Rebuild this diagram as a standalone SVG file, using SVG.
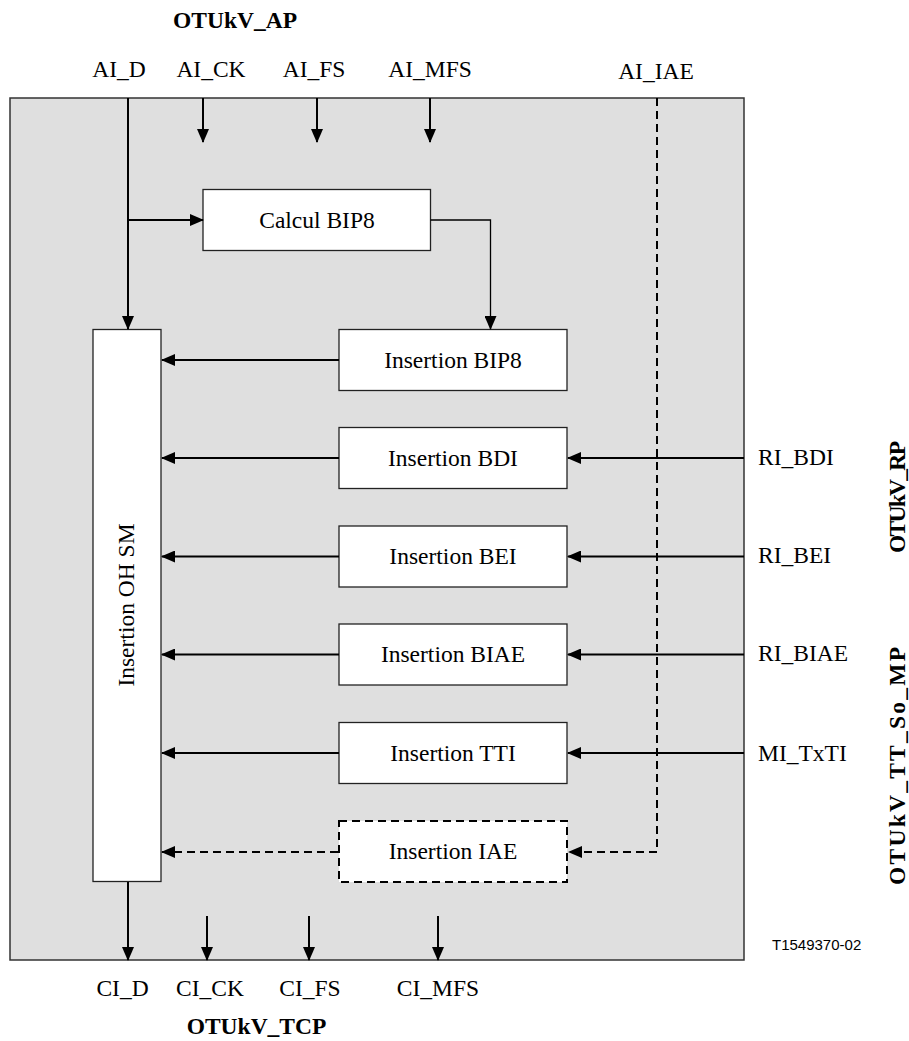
<svg xmlns="http://www.w3.org/2000/svg" width="909" height="1041" viewBox="0 0 909 1041">
<style>
.t{font-family:"Liberation Serif","Times New Roman",serif;font-size:23.5px;fill:#000}
.b{font-weight:bold}
.m{text-anchor:middle}
.box{fill:#fff;stroke:#222;stroke-width:1.3}
.dbox{fill:#fff;stroke:#000;stroke-width:2;stroke-dasharray:8 5}
.c{fill:none;stroke:#000;stroke-width:2}
.thin{fill:none;stroke:#000;stroke-width:1.3}
.d{fill:none;stroke:#000;stroke-width:2;stroke-dasharray:8 5}
</style>
<defs>
<marker id="ah" markerUnits="userSpaceOnUse" markerWidth="14" markerHeight="12" viewBox="0 0 14 12" refX="13" refY="6" orient="auto">
<path d="M0,0 L14,6 L0,12 Z" fill="#000"/>
</marker>
</defs>
<rect id="frame" x="10" y="98" width="734" height="862" fill="#dfdfdf" stroke="#333" stroke-width="1.5"/>
<g id="n-calcul"><rect class="box" x="203" y="189.5" width="227.5" height="61"/><text class="t m" x="317" y="228">Calcul BIP8</text></g>
<g id="n-ohsm"><rect class="box" x="93" y="329.5" width="68" height="552"/><text class="t m" x="134" y="605" transform="rotate(-90 134 605)">Insertion OH SM</text></g>
<g id="n-bip8"><rect class="box" x="339" y="329.5" width="228" height="61"/><text class="t m" x="453" y="368">Insertion BIP8</text></g>
<g id="n-bdi"><rect class="box" x="339" y="427.5" width="228" height="61"/><text class="t m" x="453" y="466">Insertion BDI</text></g>
<g id="n-bei"><rect class="box" x="339" y="526" width="228" height="61"/><text class="t m" x="453" y="564">Insertion BEI</text></g>
<g id="n-biae"><rect class="box" x="339" y="624" width="228" height="61"/><text class="t m" x="453" y="662">Insertion BIAE</text></g>
<g id="n-tti"><rect class="box" x="339" y="722.5" width="228" height="61"/><text class="t m" x="453" y="761">Insertion TTI</text></g>
<g id="n-iae"><rect class="dbox" x="339" y="821" width="228" height="61"/><text class="t m" x="453" y="859">Insertion IAE</text></g>
<g id="connectors">
<path class="c" d="M128,98 V329" marker-end="url(#ah)"/>
<path class="c" d="M128,220 H203" marker-end="url(#ah)"/>
<path class="c" d="M203,98 V142" marker-end="url(#ah)"/>
<path class="c" d="M317,98 V142" marker-end="url(#ah)"/>
<path class="c" d="M430,98 V142" marker-end="url(#ah)"/>
<path class="thin" d="M430.5,220 H490.5 V329" marker-end="url(#ah)"/>
<path class="c" d="M339,360 H162" marker-end="url(#ah)"/>
<path class="c" d="M339,458 H162" marker-end="url(#ah)"/>
<path class="c" d="M339,556.5 H162" marker-end="url(#ah)"/>
<path class="c" d="M339,654.5 H162" marker-end="url(#ah)"/>
<path class="c" d="M339,753 H162" marker-end="url(#ah)"/>
<path class="d" d="M338,852 H162" marker-end="url(#ah)"/>
<path class="c" d="M744,458 H568" marker-end="url(#ah)"/>
<path class="c" d="M744,556.5 H568" marker-end="url(#ah)"/>
<path class="c" d="M744,654.5 H568" marker-end="url(#ah)"/>
<path class="c" d="M744,753 H568" marker-end="url(#ah)"/>
<path class="d" d="M657,98 V852 H569" marker-end="url(#ah)"/>
<path class="c" d="M128,882 V960" marker-end="url(#ah)"/>
<path class="c" d="M207,916 V960" marker-end="url(#ah)"/>
<path class="c" d="M309,916 V960" marker-end="url(#ah)"/>
<path class="c" d="M438,916 V960" marker-end="url(#ah)"/>
</g>
<g id="labels">
<text class="t b m" x="235" y="28">OTUkV_AP</text>
<text class="t m" x="119" y="77">AI_D</text>
<text class="t m" x="211" y="77">AI_CK</text>
<text class="t m" x="314" y="77">AI_FS</text>
<text class="t m" x="430" y="77">AI_MFS</text>
<text class="t m" x="656" y="79">AI_IAE</text>
<text class="t" x="758" y="465">RI_BDI</text>
<text class="t" x="758" y="563">RI_BEI</text>
<text class="t" x="758" y="661">RI_BIAE</text>
<text class="t" x="758" y="761">MI_TxTI</text>
<text class="t b m" x="905" y="497" transform="rotate(-90 905 497)" textLength="112" lengthAdjust="spacing">OTUkV_RP</text>
<text class="t b m" x="905" y="766" transform="rotate(-90 905 766)" textLength="238" lengthAdjust="spacing">OTUkV_TT_So_MP</text>
<text class="t m" x="122.5" y="996">CI_D</text>
<text class="t m" x="210" y="996">CI_CK</text>
<text class="t m" x="310" y="996">CI_FS</text>
<text class="t m" x="438" y="996">CI_MFS</text>
<text class="t b m" x="256.5" y="1034">OTUkV_TCP</text>
<text x="772" y="950" font-family="Liberation Sans,Arial,sans-serif" font-size="15" fill="#000">T1549370-02</text>
</g>
</svg>
